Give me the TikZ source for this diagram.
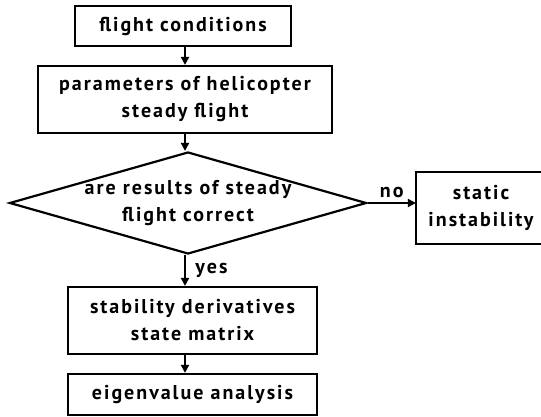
\documentclass[tikz,border=0pt]{standalone}
\usepackage{fontspec}
\setmainfont{PT Sans}[LetterSpace=10]
\usetikzlibrary{shapes.geometric,arrows.meta}
\begin{document}
\begin{tikzpicture}[x=1pt,y=-1pt,line width=2.2pt,
	txt/.style={font=\fontsize{20}{27}\selectfont\bfseries},
	box/.style={draw,txt,align=center,inner sep=0pt},
	arr/.style={-{Triangle[length=8pt,width=8pt]}}]
\useasboundingbox (0,0) rectangle (541,417);
\node[box,minimum width=216pt,minimum height=40pt] (F) at (183,26) {flight conditions};
\node[box,minimum width=294pt,minimum height=67pt] (P) at (185,99.5) {parameters of helicopter\\steady flight};
\node[box,shape=diamond,aspect=3.3,inner xsep=-10pt,inner ysep=-3pt,minimum width=357pt,minimum height=102pt] (Q) at (188,203) {are results of steady\\flight correct};
\node[box,draw=none,minimum width=128pt,minimum height=70pt] (I) at (481,208) {static\\instability};
\draw (I.north west) rectangle ([xshift=60pt]I.south east);
\node[box,minimum width=249pt,minimum height=67pt] (S) at (192.5,320.5) {stability derivatives\\state matrix};
\node[box,minimum width=249pt,minimum height=41pt] (E) at (192.5,394.5) {eigenvalue analysis};
\draw[arr] (F.south -| P) -- (P);
\draw[arr] (P) -- (P |- Q.north);
\draw[arr] (Q.east) -- (Q.east -| I.west) node[txt,midway,above=1pt] (no) {no};
\draw[arr] (P |- Q.south) -- (P |- S.north) node[txt,midway,right=6pt] (yes) {yes};
\draw[arr] (S.south -| P) -- (P |- E.north);
\end{tikzpicture}
\end{document}
